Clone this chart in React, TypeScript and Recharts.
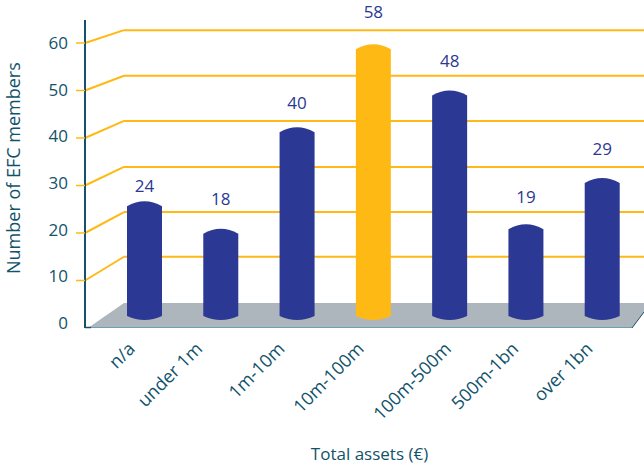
import { ComposedChart, Bar, Cell, LabelList, Line, XAxis, YAxis, ReferenceLine, ReferenceArea } from "recharts";

const categories = ["n/a", "under 1m", "1m-10m", "10m-100m", "100m-500m", "500m-1bn", "over 1bn"];
const members = [24, 18, 40, 58, 48, 19, 29];
const highlighted = "10m-100m";

const yTicks = [0, 10, 20, 30, 40, 50, 60];
// where each gridline meets the back wall, in front-axis units
const wallLevels = [15, 24.4, 33.9, 43.6, 53.1, 62.7];
const wallFronts = [10, 20, 30, 40, 50, 60];
const floorBack = 5.26;
const labelLift = [15, 30, 24, 32, 29, 27, 29];
const tickNudge = [0, -9, -3, 0, 11, 2, 0];

const data = categories.map((name, i) => ({ name, members: members[i] }));

const FONT = "'Open Sans', sans-serif";
const TEAL = "#12536b";
const GOLD = "#ffb914";
const BLUE = "#2b3894";
const DEPTH_MAX = 6;
const WALL_DEPTH = 0.4186;

function Cylinder({ x, y, width, height, fill }: any) {
  const base = y + height;
  const mid = x + width / 2;
  return (
    <path
      d={`M${x},${y + 5} Q${mid},${y - 5} ${x + width},${y + 5} L${x + width},${base + 4} Q${mid},${base + 12} ${x},${base + 4} Z`}
      fill={fill}
    />
  );
}

function Floor({ x, y, width, height }: any) {
  const bottom = y + height;
  const right = x + width;
  return (
    <g>
      <polygon
        points={`${x + 3},${bottom} ${x + 39},${y} ${right},${y} ${right},${y + 9} ${right - 12},${bottom}`}
        fill="#adb5bd"
      />
      <line x1={x} y1={bottom - 0.5} x2={right - 12} y2={bottom - 0.5} stroke="#6f9fb0" strokeWidth={1} />
      <line x1={x} y1={bottom - 0.5} x2={x + 6} y2={bottom - 0.5} stroke={TEAL} strokeWidth={1.5} />
      <line x1={right - 12} y1={bottom} x2={right} y2={y + 9} stroke={TEAL} strokeWidth={1} />
    </g>
  );
}

function YTick({ y, payload }: any) {
  const v = payload.value;
  return (
    <g>
      {v > 0 && <line x1={76} x2={85} y1={y} y2={y} stroke={GOLD} strokeWidth={1.5} />}
      <text x={68} y={y - (60 - v) * 0.08 + 6} textAnchor="end" fontSize={17} fontFamily={FONT} fill={TEAL}>
        {v}
      </text>
    </g>
  );
}

function XTick({ x, y, payload }: any) {
  const nudge = tickNudge[categories.indexOf(payload.value)] ?? 0;
  return (
    <text
      transform={`translate(${x - 8 + nudge},${y + 14}) rotate(-45)`}
      textAnchor="end"
      fontSize={18}
      fontFamily={FONT}
      fill={TEAL}
    >
      {payload.value}
    </text>
  );
}

function BarValue({ x, y, width, value, index }: any) {
  return (
    <text
      x={x + width / 2}
      y={y - labelLift[index] + 6}
      textAnchor="middle"
      fontSize={17}
      fontFamily={FONT}
      fill={BLUE}
    >
      {value}
    </text>
  );
}

export default function App() {
  return (
    <div style={{ position: "absolute", left: 0, top: 0, width: 644, height: 464 }}>
      <ComposedChart
        width={644}
        height={464}
        data={data}
        margin={{ top: 20, right: 0, bottom: 0, left: 0 }}
      >
        <XAxis
          xAxisId="cat"
          dataKey="name"
          interval={0}
          height={136}
          padding={{ left: 21, right: 4 }}
          axisLine={false}
          tickLine={false}
          tick={<XTick />}
          label={{
            value: "Total assets (€)",
            position: "insideBottom",
            offset: 4,
            dx: 5,
            style: { fontSize: 17, fontFamily: FONT, fill: TEAL },
          }}
        />
        <XAxis xAxisId="depth" type="number" domain={[0, DEPTH_MAX]} height={0} hide />
        <YAxis
          yAxisId="grid"
          width={85}
          domain={[0, 64.84]}
          ticks={yTicks}
          interval={0}
          axisLine={{ stroke: TEAL, strokeWidth: 2 }}
          tickLine={false}
          tick={<YTick />}
          label={{
            value: "Number of EFC members",
            angle: -90,
            position: "insideLeft",
            offset: 14,
            dy: 100,
            style: { fontSize: 18, fontFamily: FONT, fill: TEAL },
          }}
        />
        <YAxis yAxisId="bars" width={0} domain={[-3.48, 63.26]} allowDataOverflow hide />

        <ReferenceArea
          xAxisId="depth"
          yAxisId="grid"
          x1={0}
          x2={DEPTH_MAX}
          y1={0}
          y2={floorBack}
          shape={<Floor />}
        />
        {wallFronts.map((front, i) => (
          <ReferenceLine
            key={`wall-${front}`}
            xAxisId="depth"
            yAxisId="grid"
            segment={[{ x: 0, y: front }, { x: WALL_DEPTH, y: wallLevels[i] }]}
            stroke={GOLD}
            strokeWidth={2}
            zIndex={100}
          />
        ))}
        {wallLevels.map((level) => (
          <ReferenceLine
            key={`back-${level}`}
            xAxisId="depth"
            yAxisId="grid"
            segment={[{ x: WALL_DEPTH, y: level }, { x: DEPTH_MAX, y: level }]}
            stroke={GOLD}
            strokeWidth={2}
            zIndex={100}
          />
        ))}

        <Line
          xAxisId="cat"
          yAxisId="grid"
          dataKey="members"
          stroke="none"
          dot={false}
          activeDot={false}
          legendType="none"
          isAnimationActive={false}
        />
        <Bar
          xAxisId="cat"
          yAxisId="bars"
          dataKey="members"
          barSize={35}
          shape={<Cylinder />}
          isAnimationActive={false}
        >
          {data.map((d) => (
            <Cell key={d.name} fill={d.name === highlighted ? GOLD : BLUE} />
          ))}
          <LabelList dataKey="members" content={<BarValue />} />
        </Bar>
      </ComposedChart>
    </div>
  );
}
